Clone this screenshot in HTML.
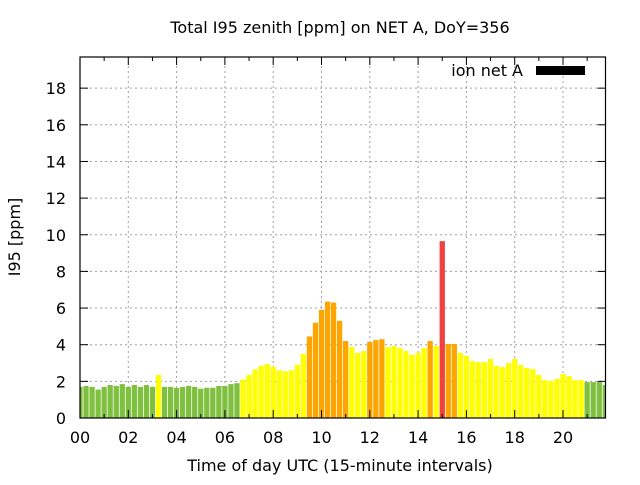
<!DOCTYPE html>
<html><head><meta charset="utf-8"><style>
body{margin:0;background:#fff}
svg text{font-family:"DejaVu Sans","Liberation Sans",sans-serif;font-size:16px;fill:#000}
</style></head><body>
<svg id="chart" width="640" height="480" viewBox="0 0 640 480" xmlns="http://www.w3.org/2000/svg">
<text x="340" y="33" text-anchor="middle">Total I95 zenith [ppm] on NET A, DoY=356</text>
<text x="340" y="471" text-anchor="middle">Time of day UTC (15-minute intervals)</text>
<text transform="translate(20,237) rotate(-90)" text-anchor="middle">I95 [ppm]</text>
<g id="grid"></g>
<g id="bars"></g>
<g id="axes"></g>
<text x="523" y="76" text-anchor="end">ion net A</text>
<rect x="536" y="66" width="49" height="9" fill="#000"/>
</svg>
<script>
const values=[1.7,1.75,1.7,1.55,1.7,1.8,1.75,1.85,1.7,1.8,1.7,1.8,1.7,2.35,1.7,1.7,1.65,1.7,1.75,1.7,1.6,1.65,1.65,1.75,1.75,1.85,1.9,2.1,2.35,2.65,2.85,2.95,2.8,2.6,2.55,2.6,2.9,3.5,4.45,5.2,5.9,6.35,6.3,5.3,4.2,3.87,3.55,3.65,4.15,4.25,4.3,3.87,3.93,3.82,3.65,3.44,3.55,3.82,4.2,3.93,9.65,4.04,4.04,3.55,3.38,3.1,3.05,3.05,3.22,2.84,2.78,3.0,3.22,2.89,2.73,2.67,2.35,2.07,2.02,2.13,2.4,2.29,2.07,2.07,1.96,1.96,1.96,1.8];
const levels=["g","g","g","g","g","g","g","g","g","g","g","g","g","y",
"g","g","g","g","g","g","g","g","g","g","g","g","g",
"y","y","y","y","y","y","y","y","y","y","y",
"o","o","o","o","o","o","o",
"y","y","y","o","o","o",
"y","y","y","y","y","y","y","o","y","r","o","o",
"y","y","y","y","y","y","y","y","y","y","y","y","y","y","y","y","y","y","y","y","y",
"g","g","g","g"];
const xTicks=["00","02","04","06","08","10","12","14","16","18","20"];
const yTicks=[0,2,4,6,8,10,12,14,16,18];
const X0=80,X1=605.5,Y0=418,Y1=57,YMAX=19.7,HMAX=(X1-X0)/24.15;
const sx=h=>X0+(X1-X0)*h/HMAX, sy=v=>Y0-(Y0-Y1)*v/YMAX;
const NS="http://www.w3.org/2000/svg";
const colors={g:"#80c040",y:"#ffff00",o:"#ffa500",r:"#f04040"};
function mk(t,a,p){const e=document.createElementNS(NS,t);for(const k in a)e.setAttribute(k,a[k]);p.appendChild(e);return e;}
const grid=document.getElementById("grid"),bars=document.getElementById("bars"),axes=document.getElementById("axes");
yTicks.forEach(v=>{const y=sy(v);
 if(v>0){const l=mk("line",{x1:X0,x2:X1,y1:y,y2:y,stroke:"#a0a0a0","stroke-dasharray":"2,3"},grid);
 
 }
 mk("line",{x1:X0,x2:X0+8,y1:y,y2:y,stroke:"#000"},axes);
 mk("line",{x1:X1-8,x2:X1,y1:y,y2:y,stroke:"#000"},axes);
 const t=mk("text",{x:66,y:y+6,"text-anchor":"end"},axes);t.textContent=v;
 
 
});
xTicks.forEach((s,i)=>{const x=sx(i*2);
 if(i>0){const l=mk("line",{x1:x,x2:x,y1:Y0,y2:Y1,stroke:"#a0a0a0","stroke-dasharray":"2,3"},grid);
 
 }
 const t=mk("text",{x:x,y:443,"text-anchor":"middle"},axes);t.textContent=s;
 
 
});
for(let h=0;h<=21;h++){const x=sx(h),len=h%2?4:8;
 mk("line",{x1:x,x2:x,y1:Y0,y2:Y0-len,stroke:"#000"},axes);
 mk("line",{x1:x,x2:x,y1:Y1,y2:Y1+len,stroke:"#000"},axes);}
const bw=(sx(0.25)-sx(0))*0.875;
values.forEach((v,i)=>{const cx=sx(i*0.25);let l=Math.max(cx-bw/2,X0),r=Math.min(cx+bw/2,X1);
 const b=mk("rect",{x:l,y:sy(v),width:r-l,height:Y0-sy(v),fill:colors[levels[i]]||colors.y},bars);
 
 
});
const fr=mk("rect",{x:X0,y:Y1,width:X1-X0,height:Y0-Y1,fill:"none",stroke:"#000","stroke-width":1.2},axes);


</script>
</body></html>
